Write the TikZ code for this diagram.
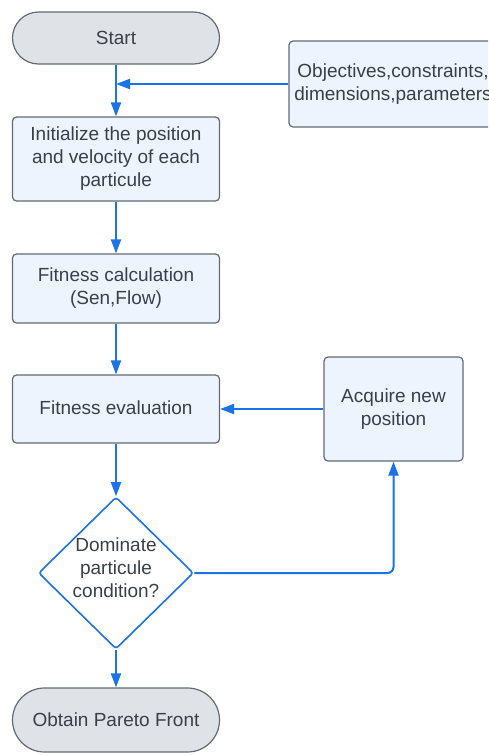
\documentclass[tikz,border=0pt]{standalone}
\usepackage{fontspec}
\setmainfont{Liberation Sans}
\usetikzlibrary{shapes.geometric,arrows.meta}
\definecolor{flowblue}{HTML}{1A73E8}
\definecolor{boxfill}{HTML}{EDF4FE}
\definecolor{boxline}{HTML}{636A73}
\definecolor{termfill}{HTML}{DFE2E7}
\definecolor{txt}{HTML}{3A4049}
\tikzset{
  base/.style={draw=boxline, line width=1.2pt, text=txt, align=center,
    font=\fontsize{19}{23}\selectfont, inner sep=0pt},
  procbox/.style={base, fill=boxfill, rounded corners=4pt},
  terminal/.style={base, fill=termfill, rounded corners=26pt},
  decision/.style={diamond, draw=flowblue, line width=1.6pt, fill=white,
    minimum width=155pt, minimum height=152pt, inner sep=0pt, rounded corners=3pt},
  arr/.style={draw=flowblue, line width=2pt,
    -{Triangle[length=14pt,width=10pt]}},
}
\begin{document}
\begin{tikzpicture}[x=1pt,y=-1pt]
  \clip (0,0) rectangle (488,756);
  \fill[white] (0,0) rectangle (488,756);

  % main column
  \node[terminal, minimum width=207pt, minimum height=52pt] (start) at (116,38) {Start};
  \node[procbox, minimum width=207pt, minimum height=84pt] (init) at (116,159)
    {Initialize the position\\and velocity of each\\particule};
  \node[procbox, minimum width=207pt, minimum height=69pt] (calc) at (116,288.5)
    {\raisebox{2pt}{\begin{tabular}{@{}c@{}}Fitness calculation\\(Sen,Flow)\end{tabular}}};
  \node[procbox, minimum width=207pt, minimum height=68pt] (eval) at (116,409)
    {\raisebox{2pt}{Fitness evaluation}};
  \node[decision] (dom) at (116,573) {};
  \node[base, draw=none, fill=none] (domtxt) at (116,568)
    {Dominate\\particule\\condition?};
  \node[terminal, minimum width=207pt, minimum height=64pt, rounded corners=32pt] (pareto) at (116,720)
    {Obtain Pareto Front};

  % side boxes
  \node[procbox, minimum width=208pt, minimum height=86pt] (obj) at (393,84)
    {\raisebox{2pt}{\begin{tabular}{@{}c@{}}Objectives,constraints,\\dimensions,parameters\end{tabular}}};
  \node[procbox, minimum width=139pt, minimum height=104pt] (acq) at (393.5,409)
    {\raisebox{2pt}{\begin{tabular}{@{}c@{}}Acquire new\\position\end{tabular}}};

  % connectors
  \coordinate (join) at (start.south |- obj.west);
  \draw[arr] (start.south) -- (init.north);
  \draw[arr] (obj.west) -- (join);
  \draw[arr] (init.south) -- (calc.north);
  \draw[arr] (calc.south) -- (eval.north);
  \draw[arr] (eval.south) -- (dom.north);
  \draw[arr] (dom.south) -- (pareto.north);
  \draw[arr] (acq.west) -- (eval.east);
  \draw[arr, rounded corners=6pt] (dom.east) -| (acq.south);
\end{tikzpicture}
\end{document}
